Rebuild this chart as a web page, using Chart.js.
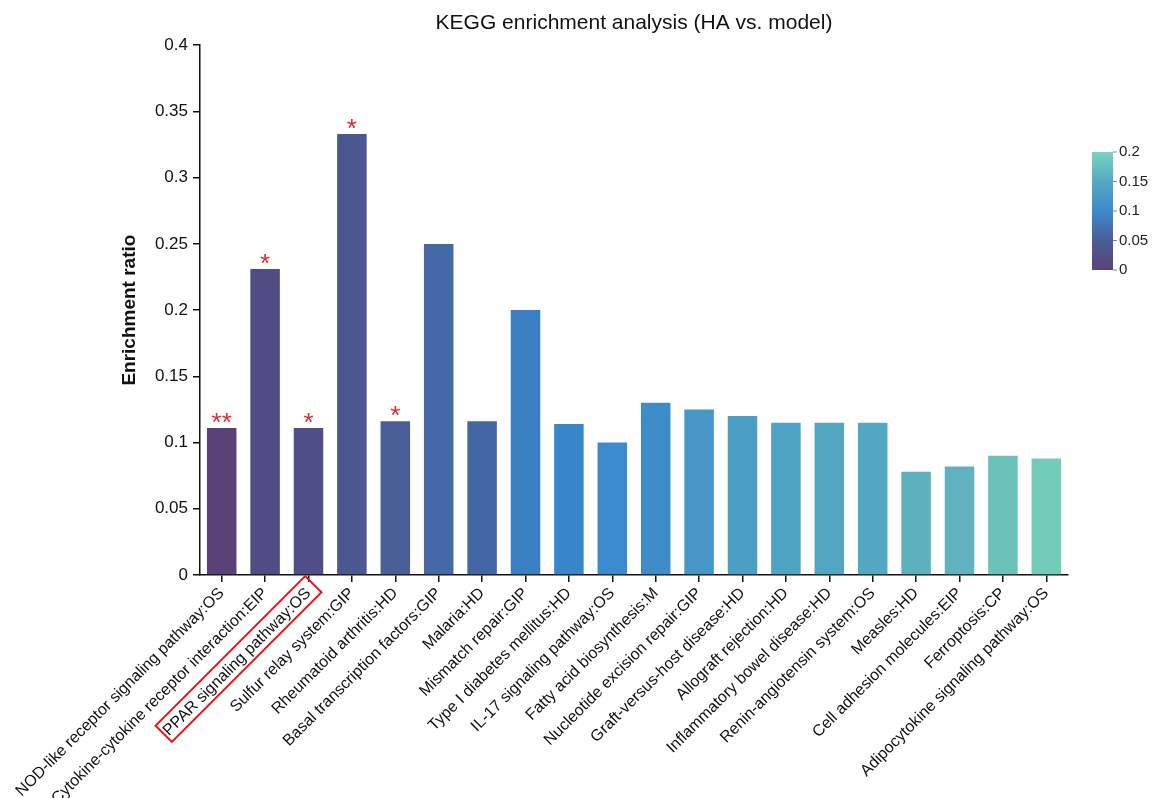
<!DOCTYPE html>
<html>
<head>
<meta charset="utf-8">
<script src="https://cdn.jsdelivr.net/npm/chart.js@4"></script>
<style>
  html, body { margin: 0; padding: 0; background: #fff; }
  #wrap { width: 1154px; height: 798px; }
</style>
</head>
<body>
<div id="wrap"><canvas id="kegg-chart" width="1154" height="798"></canvas></div>
<script>
const pathways = [
    'NOD-like receptor signaling pathway:OS',
    'Cytokine-cytokine receptor interaction:EIP',
    'PPAR signaling pathway:OS',
    'Sulfur relay system:GIP',
    'Rheumatoid arthritis:HD',
    'Basal transcription factors:GIP',
    'Malaria:HD',
    'Mismatch repair:GIP',
    'Type I diabetes mellitus:HD',
    'IL-17 signaling pathway:OS',
    'Fatty acid biosynthesis:M',
    'Nucleotide excision repair:GIP',
    'Graft-versus-host disease:HD',
    'Allograft rejection:HD',
    'Inflammatory bowel disease:HD',
    'Renin-angiotensin system:OS',
    'Measles:HD',
    'Cell adhesion molecules:EIP',
    'Ferroptosis:CP',
    'Adipocytokine signaling pathway:OS'
];
const ratios = [0.111, 0.231, 0.111, 0.333, 0.116, 0.25, 0.116, 0.2, 0.114, 0.1,
                0.13, 0.125, 0.12, 0.115, 0.115, 0.115, 0.078, 0.082, 0.09, 0.088];
const stars = ['**', '*', '*', '*', '*', '', '', '', '', '', '', '', '', '', '', '', '', '', '', ''];
const barColors = ['#5a4178', '#504d86', '#504e87', '#4b5890', '#4a5e98', '#4469a6', '#4566a4',
                   '#3a7fc3', '#3986ca', '#3b8acc', '#3f8dc7', '#4697c5', '#4c9fc4', '#50a4c3',
                   '#52a6c2', '#54a7c2', '#5db1be', '#60b3be', '#6bc2bb', '#73cbb9'];
const colorbarTicks = [0, 0.05, 0.1, 0.15, 0.2];
const highlighted = 2; // PPAR label gets the red box

const FONT = "'Liberation Sans', Arial, sans-serif";

// red asterisks over the significant bars
const starPlugin = {
    id: 'stars',
    afterDatasetsDraw(chart) {
        const ctx = chart.ctx;
        const meta = chart.getDatasetMeta(0);
        ctx.save();
        ctx.fillStyle = '#e5262b';
        ctx.font = '26px ' + FONT;
        ctx.textAlign = 'center';
        ctx.textBaseline = 'alphabetic';
        meta.data.forEach((bar, i) => {
            if (stars[i]) ctx.fillText(stars[i], bar.x, bar.y + 3);
        });
        ctx.restore();
    }
};

// box round the PPAR label + colour bar legend
const extrasPlugin = {
    id: 'extras',
    afterDraw(chart) {
        const ctx = chart.ctx;
        const xs = chart.scales.x;
        ctx.save();
        ctx.font = '16px ' + FONT;
        const w = ctx.measureText(pathways[highlighted]).width;
        ctx.translate(xs.getPixelForTick(highlighted) + 2, xs.top + 12);
        ctx.rotate(-Math.PI / 4);
        ctx.strokeStyle = '#e8141c';
        ctx.lineWidth = 2;
        ctx.strokeRect(-w - 6, -11.5, w + 10, 23);
        ctx.restore();

        // colour bar
        const left = 1092, width = 21, top = 152, bottom = 270;
        const grad = ctx.createLinearGradient(0, bottom, 0, top);
        grad.addColorStop(0, '#5a4178');
        grad.addColorStop(0.25, '#4a5e98');
        grad.addColorStop(0.5, '#3c8acc');
        grad.addColorStop(0.75, '#55a9c2');
        grad.addColorStop(1, '#7ad4bf');
        ctx.save();
        ctx.fillStyle = grad;
        ctx.fillRect(left, top, width, bottom - top);
        ctx.strokeStyle = '#888';
        ctx.lineWidth = 1;
        ctx.fillStyle = '#222';
        ctx.font = '15px ' + FONT;
        ctx.textBaseline = 'middle';
        colorbarTicks.forEach(v => {
            const y = bottom - (v / 0.2) * (bottom - top);
            ctx.beginPath();
            ctx.moveTo(left + width, y);
            ctx.lineTo(left + width + 4, y);
            ctx.stroke();
            ctx.fillText(String(v), left + width + 6, y);
        });
        ctx.restore();
    }
};

const chart = new Chart(document.getElementById('kegg-chart'), {
    type: 'bar',
    data: {
        labels: pathways,
        datasets: [{
            label: 'Enrichment ratio',
            data: ratios,
            backgroundColor: barColors,
            barPercentage: 0.68,
            categoryPercentage: 1
        }]
    },
    options: {
        responsive: false,
        animation: false,
        layout: { padding: { left: 0, right: 86, top: 0, bottom: 0 } },
        plugins: {
            legend: { display: false },
            tooltip: { enabled: false },
            title: {
                display: true,
                text: 'KEGG enrichment analysis (HA vs. model)',
                fullSize: false,
                color: '#111',
                font: { family: FONT, size: 21, weight: 'normal' },
                padding: { top: 11, bottom: 9 }
            }
        },
        scales: {
            x: {
                grid: { display: true, offset: false, drawOnChartArea: false, color: '#111', tickLength: 7, lineWidth: 1.5 },
                border: { color: '#111', width: 1.5 },
                ticks: {
                    autoSkip: false, maxRotation: 45, minRotation: 45,
                    color: '#111', padding: 2,
                    font: { family: FONT, size: 16 }
                },
                afterFit(scale) {
                    scale.height = 223;
                    scale.paddingLeft = 0;
                    scale.paddingRight = 0;
                }
            },
            y: {
                min: 0, max: 0.4,
                grid: { display: true, drawOnChartArea: false, color: '#111', tickLength: 7, lineWidth: 1.5 },
                border: { color: '#111', width: 1.5 },
                ticks: {
                    stepSize: 0.05, color: '#111', padding: 5,
                    font: { family: FONT, size: 17 },
                    callback: v => String(+v.toFixed(2))
                },
                title: {
                    display: true,
                    text: 'Enrichment ratio',
                    color: '#111',
                    font: { family: FONT, size: 19, weight: 'bold' },
                    padding: { top: 118, bottom: 0 }
                },
                afterFit(scale) {
                    scale.width = 200;
                }
            }
        }
    },
    plugins: [starPlugin, extrasPlugin]
});
</script>
</body>
</html>
